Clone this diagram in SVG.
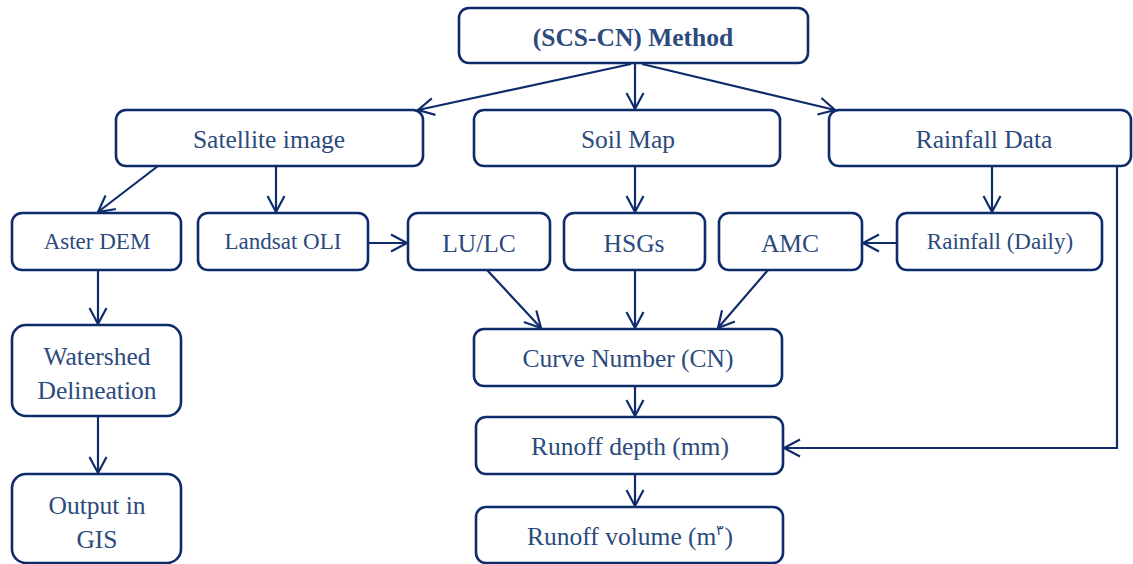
<svg xmlns="http://www.w3.org/2000/svg" width="1133" height="564" viewBox="0 0 1133 564">
<defs>
<style>
.box{fill:#ffffff;stroke:#0e2c6c;stroke-width:2.6}
text{font-family:'Liberation Serif','Times New Roman',Tinos,'DejaVu Serif',serif;fill:#2b4a7d;text-anchor:middle}
.l{font-size:25.5px}
.s{font-size:23px}
.b{font-size:25.5px;font-weight:bold}
.c{fill:none;stroke:#0e2c6c;stroke-width:2.2}
</style>
<marker id="ah" markerUnits="userSpaceOnUse" markerWidth="24" markerHeight="24" viewBox="-20 -12 24 24" refX="0" refY="0" orient="auto">
<path d="M-16,-8.5 L0,0 L-16,8.5" fill="none" stroke="#0e2c6c" stroke-width="2.2"/>
</marker>
</defs>
<rect width="1133" height="564" fill="#ffffff"/>
<g id="connectors">
<line class="c" x1="631" y1="64" x2="418" y2="110" marker-end="url(#ah)"/>
<line class="c" x1="635" y1="64" x2="635" y2="109" marker-end="url(#ah)"/>
<line class="c" x1="642" y1="64" x2="835" y2="110" marker-end="url(#ah)"/>
<line class="c" x1="158" y1="166" x2="98" y2="212" marker-end="url(#ah)"/>
<line class="c" x1="276" y1="166" x2="276" y2="212" marker-end="url(#ah)"/>
<line class="c" x1="368" y1="243" x2="407" y2="243" marker-end="url(#ah)"/>
<line class="c" x1="635" y1="166" x2="635" y2="212" marker-end="url(#ah)"/>
<line class="c" x1="992" y1="166" x2="992" y2="212" marker-end="url(#ah)"/>
<line class="c" x1="897" y1="243" x2="863" y2="243" marker-end="url(#ah)"/>
<line class="c" x1="487" y1="270" x2="541" y2="328" marker-end="url(#ah)"/>
<line class="c" x1="635" y1="270" x2="635" y2="328" marker-end="url(#ah)"/>
<line class="c" x1="768" y1="270" x2="718" y2="328" marker-end="url(#ah)"/>
<line class="c" x1="635" y1="386" x2="635" y2="416" marker-end="url(#ah)"/>
<line class="c" x1="635" y1="474" x2="635" y2="506" marker-end="url(#ah)"/>
<line class="c" x1="98" y1="270" x2="98" y2="324" marker-end="url(#ah)"/>
<line class="c" x1="98" y1="416" x2="98" y2="473" marker-end="url(#ah)"/>
<polyline class="c" points="1117,166 1117,448 784,448" marker-end="url(#ah)"/>
</g>
<g id="n-method"><rect class="box" x="459" y="8" width="349" height="55" rx="10"/><text class="b" x="633" y="46">(SCS-CN) Method</text></g>
<g id="n-satellite"><rect class="box" x="116" y="110" width="307" height="56" rx="10"/><text class="l" x="269" y="148">Satellite image</text></g>
<g id="n-soil"><rect class="box" x="474" y="110" width="306" height="56" rx="10"/><text class="l" x="628" y="148">Soil Map</text></g>
<g id="n-rainfall"><rect class="box" x="829" y="110" width="302" height="56" rx="10"/><text class="l" x="984" y="148">Rainfall Data</text></g>
<g id="n-aster"><rect class="box" x="12" y="213" width="169" height="57" rx="10"/><text class="s" x="97" y="249">Aster DEM</text></g>
<g id="n-landsat"><rect class="box" x="198" y="213" width="170" height="57" rx="10"/><text class="s" x="283" y="249">Landsat OLI</text></g>
<g id="n-lulc"><rect class="box" x="408" y="213" width="142" height="57" rx="10"/><text class="l" x="479" y="252">LU/LC</text></g>
<g id="n-hsgs"><rect class="box" x="564" y="213" width="141" height="57" rx="10"/><text class="l" x="634" y="252">HSGs</text></g>
<g id="n-amc"><rect class="box" x="719" y="213" width="143" height="57" rx="10"/><text class="l" x="790" y="252">AMC</text></g>
<g id="n-daily"><rect class="box" x="897" y="213" width="205" height="57" rx="10"/><text class="s" x="1000" y="249">Rainfall (Daily)</text></g>
<g id="n-watershed"><rect class="box" x="12" y="325" width="169" height="91" rx="14"/><text class="l" x="97" y="365">Watershed</text><text class="l" x="97" y="399">Delineation</text></g>
<g id="n-output"><rect class="box" x="12" y="474" width="169" height="89" rx="14"/><text class="l" x="97" y="514">Output in</text><text class="l" x="97" y="548">GIS</text></g>
<g id="n-cn"><rect class="box" x="474" y="329" width="308" height="57" rx="10"/><text class="l" x="628" y="367">Curve Number (CN)</text></g>
<g id="n-depth"><rect class="box" x="476" y="417" width="307" height="57" rx="10"/><text class="l" x="630" y="455">Runoff depth (mm)</text></g>
<g id="n-volume"><rect class="box" x="476" y="507" width="307" height="56" rx="10"/><text class="l" x="630" y="545">Runoff volume (m<tspan font-size="14px" dy="-10">۳</tspan><tspan dy="10">)</tspan></text></g>
</svg>
